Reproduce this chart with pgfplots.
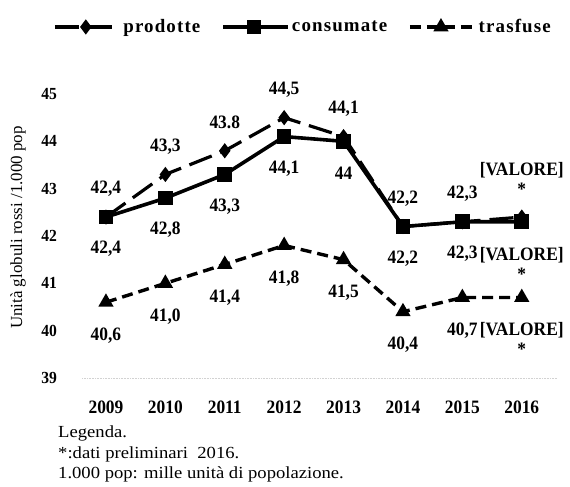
\documentclass[border=0pt]{standalone}
\usepackage{fontspec}
\setmainfont{Liberation Serif}
\newfontfamily\legfont[LetterSpace=6]{Liberation Serif}
\newfontfamily\lblfont[FakeStretch=0.92]{Liberation Serif}
\newfontfamily\notefont[FakeStretch=1.1]{Liberation Serif}
\usepackage{pgfplots}
\pgfplotsset{compat=1.18}
\protected\def\valore{[VALORE]\\*}
\begin{document}
\begin{tikzpicture}[x=1bp,y=1bp]
\path[use as bounding box] (0,0) rectangle (570,487);
\begin{axis}[
  at={(82.2bp,109bp)}, anchor=south west,
  scale only axis, width=475.2bp, height=284bp,
  xmin=2008.6, xmax=2016.6, ymin=39, ymax=45,
  axis x line*=bottom, axis y line*=left,
  x axis line style={draw=gray!35, densely dotted, line width=0.6bp},
  y axis line style={draw=none},
  major tick length=0pt,
  xtick={2009,2010,2011,2012,2013,2014,2015,2016},
  xticklabels={2009,2010,2011,2012,2013,2014,2015,2016},
  ytick={39,40,41,42,43,44,45},
  yticklabels={39,40,41,42,43,44,45},
  xticklabel style={anchor=center, yshift=-29bp, font=\lblfont\bfseries\fontsize{19}{21}\selectfont},
  yticklabel style={anchor=center, xshift=-33bp, font=\lblfont\bfseries\fontsize{17}{19}\selectfont},
  ylabel={Unità globuli rossi /1.000 pop},
  ylabel style={at={(axis description cs:-0.135,0.53)}, anchor=center, font=\fontsize{17}{19}\selectfont},
  clip=false,
  point meta=explicit symbolic,
  legend columns=3,
  legend style={at={(axis description cs:0.4646,1.236)}, anchor=center, draw=none, fill=none,
    font=\legfont\bfseries\fontsize{19}{21}\selectfont,
    /tikz/every even column/.append style={column sep=19bp},
    inner sep=0pt},
  legend image code/.code={\draw[mark repeat=2,mark phase=2,#1] plot coordinates {(0bp,0bp) (31bp,0bp) (65bp,0bp)};},
  every node near coord/.append style={font=\lblfont\bfseries\fontsize{19}{20}\selectfont, text=black, anchor=center},
]
\addplot[black, line width=3.2bp, dash pattern=on 24bp off 9bp, mark=diamond*, mark size=5bp,
  mark options={solid}, nodes near coords, nodes near coords style={yshift=28bp}]
  coordinates {(2009,42.4) [42,4] (2010,43.3) [43,3] (2011,43.8) [43.8] (2012,44.5) [44,5]
  (2013,44.1) [44,1] (2014,42.2) [42,2] (2015,42.3) [42,3] (2016,42.4) [{}]};
\addlegendentry{prodotte}
\addplot[black, line width=3.6bp, mark=square*, mark size=5.5bp,
  nodes near coords, nodes near coords style={yshift=-32bp}]
  coordinates {(2009,42.4) [42,4] (2010,42.8) [42,8] (2011,43.3) [43,3] (2012,44.1) [44,1]
  (2013,44.0) [44] (2014,42.2) [42,2] (2015,42.3) [42,3] (2016,42.3) [{}]};
\addlegendentry{consumate}
\addplot[black, line width=3.4bp, dash pattern=on 11bp off 6bp, mark=triangle*, mark size=5.5bp,
  mark options={solid}, nodes near coords, nodes near coords style={yshift=-33bp}]
  coordinates {(2009,40.6) [40,6] (2010,41.0) [41,0] (2011,41.4) [41,4] (2012,41.8) [41,8]
  (2013,41.5) [41,5] (2014,40.4) [40,4] (2015,40.7) [40,7] (2016,40.7) [{}]};
\addlegendentry{trasfuse}
\addplot[draw=none, mark=none, forget plot, nodes near coords={\valore},
  nodes near coords style={align=center, yshift=38bp}] coordinates {(2016,42.4) [x]};
\addplot[draw=none, mark=none, forget plot, nodes near coords={\valore},
  nodes near coords style={align=center, yshift=-42bp}] coordinates {(2016,42.3) [x]};
\addplot[draw=none, mark=none, forget plot, nodes near coords={\valore},
  nodes near coords style={align=center, yshift=-41bp}] coordinates {(2016,40.7) [x]};
\end{axis}
\node[anchor=north west, align=left, inner sep=0pt, font=\notefont\fontsize{17}{20.5}\selectfont] at (58,61)
  {Legenda.\\*:dati preliminari\ \ 2016.\\1.000 pop: mille unità di popolazione.};
\end{tikzpicture}
\end{document}
